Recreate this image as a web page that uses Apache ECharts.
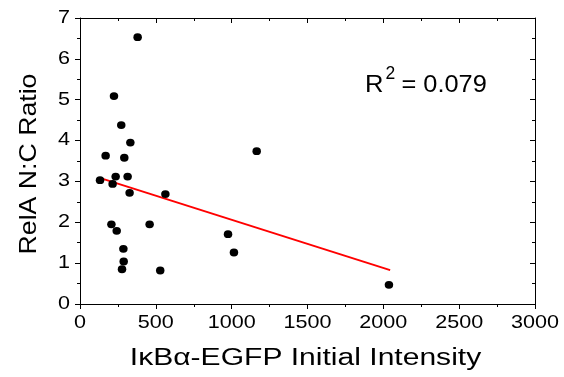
<!DOCTYPE html>
<html>
<head>
<meta charset="utf-8">
<script src="https://cdn.jsdelivr.net/npm/echarts@6/dist/echarts.min.js"></script>
<style>html,body{margin:0;padding:0;background:#fff}#c{width:564px;height:377px}</style>
</head>
<body>
<div id="c"></div>
<script>
// Data
var intensity = [380, 224, 272, 332, 169, 292, 1165, 132, 235, 314, 215, 327, 563, 207, 242, 459, 976, 1015, 286, 288, 277, 529, 2037];
var ratio     = [6.53, 5.09, 4.38, 3.95, 3.63, 3.58, 3.74, 3.03, 3.12, 3.12, 2.94, 2.72, 2.69, 1.95, 1.79, 1.95, 1.71, 1.26, 1.35, 1.04, 0.85, 0.82, 0.47];
var fitX = [135, 2045];
var fitY = [3.08, 0.83];
var xTicks = [0, 500, 1000, 1500, 2000, 2500, 3000];
var yTicks = [0, 1, 2, 3, 4, 5, 6, 7];
var xTitle = 'IκBα-EGFP Initial Intensity';
var yTitle = 'RelA N:C Ratio';
var rLabel = 'R';
var rSup = '2';
var rValue = '= 0.079';

var points = intensity.map(function (x, i) { return [x, ratio[i]]; });
var fitLine = fitX.map(function (x, i) { return [x, fitY[i]]; });

var fam = '"Liberation Sans", Arial, Helvetica, sans-serif';
var chart = echarts.init(document.getElementById('c'), null, {renderer: 'canvas'});
var axisLine = {show: true, onZero: false, lineStyle: {color: '#000', width: 1}};
function axisBase(pos, inside, min, max, interval) {
  return {
    type: 'value', position: pos, min: min, max: max, interval: interval,
    axisLine: axisLine,
    axisTick: {show: true, inside: inside, length: 5, lineStyle: {color: '#000', width: 1}},
    minorTick: {show: true, splitNumber: 2, length: 3, lineStyle: {color: '#000', width: 1}},
    axisLabel: {show: false},
    splitLine: {show: false}, minorSplitLine: {show: false}
  };
}
chart.setOption({
  animation: false,
  backgroundColor: '#fff',
  grid: {left: 80, right: 29, top: 18, bottom: 73, containLabel: false},
  xAxis: [
    axisBase('bottom', false, xTicks[0], xTicks[xTicks.length - 1], xTicks[1] - xTicks[0]),
    axisBase('top', true, xTicks[0], xTicks[xTicks.length - 1], xTicks[1] - xTicks[0])
  ],
  yAxis: [
    axisBase('left', false, yTicks[0], yTicks[yTicks.length - 1], yTicks[1] - yTicks[0]),
    axisBase('right', true, yTicks[0], yTicks[yTicks.length - 1], yTicks[1] - yTicks[0])
  ],
  series: [{
    type: 'line', data: fitLine, xAxisIndex: 0, yAxisIndex: 0,
    symbol: 'none', lineStyle: {color: '#ff0000', width: 2}, z: 1
  }, {
    type: 'scatter', data: points, xAxisIndex: 0, yAxisIndex: 0,
    symbol: 'circle', symbolSize: [8.5, 7.8], itemStyle: {color: '#000', opacity: 1}, z: 2
  }]
});

// Labels drawn as text, positioned through the axes' own scales (horizontally widened like the reference)
var x0 = chart.convertToPixel({xAxisIndex: 0}, xTicks[0]);
var yBase = chart.convertToPixel({yAxisIndex: 0}, yTicks[0]);
var yTop = chart.convertToPixel({yAxisIndex: 0}, yTicks[yTicks.length - 1]);
var xEnd = chart.convertToPixel({xAxisIndex: 0}, xTicks[xTicks.length - 1]);
var g = [];
function txt(text, x, y, size, align, vAlign, sx, rot) {
  return {
    type: 'text', x: x, y: y, scaleX: sx || 1, rotation: rot || 0, silent: true,
    style: {text: text, font: size + 'px ' + fam, fill: '#000',
            textAlign: align, textVerticalAlign: vAlign, align: align, verticalAlign: vAlign}
  };
}
xTicks.forEach(function (v) {
  g.push(txt(String(v), chart.convertToPixel({xAxisIndex: 0}, v), yBase + 19, 17.7, 'center', 'middle', 1.22));
});
yTicks.forEach(function (v) {
  g.push(txt(String(v), x0 - 10, chart.convertToPixel({yAxisIndex: 0}, v), 17.7, 'right', 'middle', 1.22));
});
g.push(txt(xTitle, (x0 + xEnd) / 2 - 2, yBase + 55, 23.3, 'center', 'middle', 1.29));
g.push(txt(yTitle, x0 - 50, (yBase + yTop) / 2 + 3, 23.2, 'center', 'middle', 1.15, Math.PI / 2));
g.push(txt(rLabel, 365, 73, 23.7, 'left', 'alphabetic', 1.08));
g.push(txt(rSup, 385.5, 65, 17.5, 'left', 'alphabetic', 1.0));
g.push(txt(rValue, 401.5, 73, 23.7, 'left', 'alphabetic', 1.07));
chart.setOption({graphic: g});
</script>
</body>
</html>
